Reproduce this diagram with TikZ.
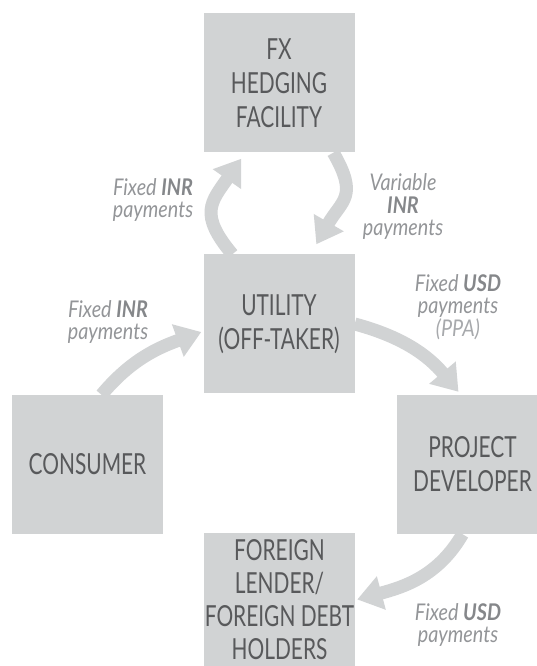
\documentclass[tikz,border=0pt]{standalone}
\usepackage{fontspec}
\usepackage{xcolor}
\usepackage{tikz}
\usetikzlibrary{arrows.meta,positioning}
\setmainfont{Lato}
\newfontfamily\boxfont[FakeStretch=0.72]{Lato}
\newfontfamily\lblfont[FakeStretch=0.86]{Lato}
\definecolor{boxgray}{HTML}{D1D3D4}
\definecolor{textgray}{HTML}{58595B}
\definecolor{lblgray}{HTML}{939598}
\definecolor{keygray}{HTML}{85878A}
\definecolor{ppagray}{HTML}{A7A9AC}
\newcommand{\cur}[1]{{\bfseries\color{keygray}#1}}

\begin{document}
\begin{tikzpicture}[
    x=1pt, y=1pt,
    node distance=241pt,
    party/.style={rectangle, fill=boxgray, minimum width=151pt, minimum height=139pt, inner sep=0pt, align=center, text=textgray, font=\boxfont\fontsize{29}{34}\selectfont},
    note/.style={align=center, text=lblgray, font=\lblfont\itshape\fontsize{23}{22.5}\selectfont},
    flow/.style={-{Triangle[width=33pt,length=25pt]}, line width=13pt, draw=boxgray}
]
\useasboundingbox (0,0) rectangle (537,666);
\clip (0,0) rectangle (537,666);

\node[party] (fx) at (279,583) {FX\\HEDGING\\FACILITY};
\node[party, below of=fx] (util) {UTILITY\\(OFF-TAKER)};
\node[party] (cons) at (87.5,201.5) {CONSUMER};
\node[party] (proj) at (472.5,201.5) {PROJECT\\DEVELOPER};
\node[party, minimum height=133pt, font=\boxfont\fontsize{29}{33}\selectfont] (lender) at (279.5,66.5) {FOREIGN\\LENDER/\\FOREIGN DEBT\\HOLDERS};

\node[note] (hedgepay) at (153,466) {Fixed \cur{INR}\\payments};
\node[note] (varpay) at (403,459) {Variable\\\cur{INR}\\payments};
\node[note] (conspay) at (108,344) {Fixed \cur{INR}\\payments};
\node[note] (ppapay) at (458,359) {Fixed \cur{USD}\\payments\\{\color{ppagray}(PPA)}};
\node[note] (debtpay) at (458,41) {Fixed \cur{USD}\\payments};

\draw[flow] ([xshift=29pt]util.north west) to[out=130,in=235,looseness=1.4] ([xshift=38pt,yshift=-6pt]fx.south west);
\draw[flow] ([xshift=130pt]fx.south west) to[out=-60,in=60,looseness=1.4] ([xshift=113pt,yshift=10pt]util.north west);
\draw[flow] ([xshift=14pt]cons.north) to[out=50,in=200] ([xshift=-2pt,yshift=-8pt]util.west);
\draw[flow] (util.east) to[out=-15,in=130] ([xshift=-14pt,yshift=3pt]proj.north);
\draw[flow] ([xshift=-10pt]proj.south) to[out=240,in=15] ([xshift=2pt]lender.east);

\end{tikzpicture}
\end{document}
